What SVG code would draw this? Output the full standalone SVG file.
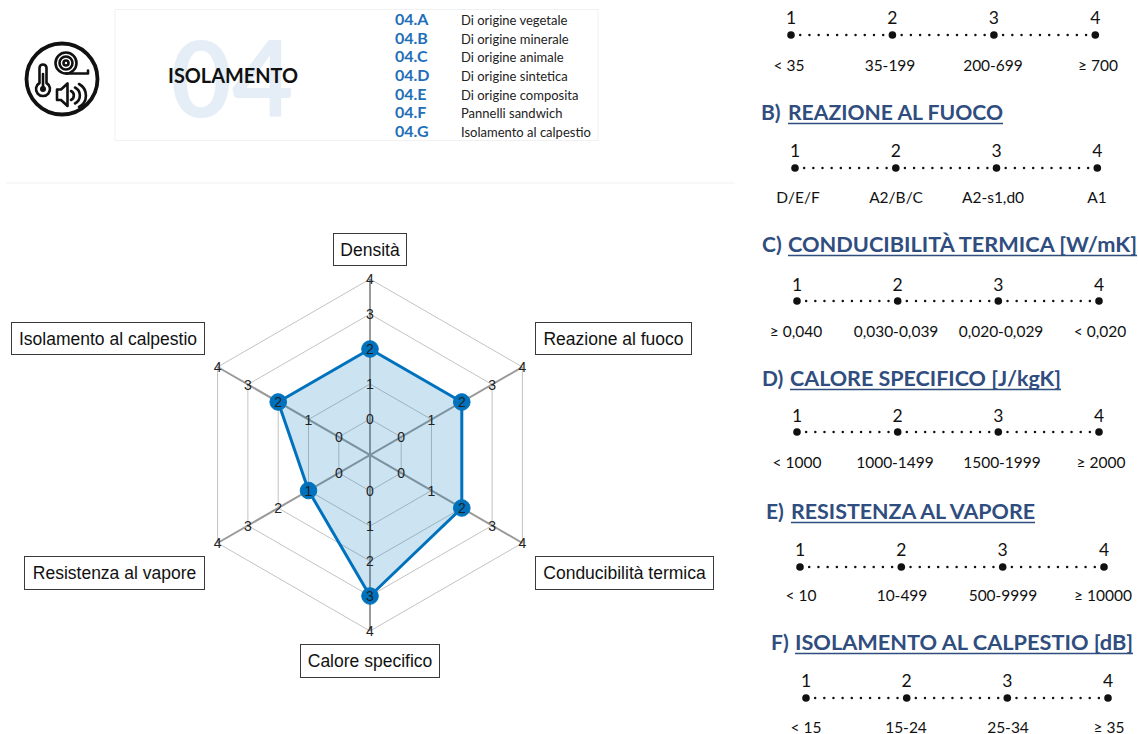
<svg xmlns="http://www.w3.org/2000/svg" width="1138" height="734" viewBox="0 0 1138 734">
<style>
.code{font-family:Lato,"Liberation Sans",sans-serif;font-weight:bold;font-size:16px;fill:#1f6fb8}
.desc{font-family:Lato,"Liberation Sans",sans-serif;font-size:13px;fill:#222}
.grid{fill:none;stroke:#b4b4b4;stroke-width:0.8}
.axis{stroke:#9a9a9a;stroke-width:2}
.tick{font-family:"Liberation Sans",Arial,sans-serif;font-size:14px;fill:#222;text-anchor:middle}
.mk{fill:#0072bd;stroke:#0072bd;stroke-width:1}
.lblbox{fill:#fff;stroke:#3a3a3a;stroke-width:1}
.lbl{font-family:"Liberation Sans",Arial,sans-serif;font-size:17.5px;fill:#111;text-anchor:middle}
.ttl{font-family:Lato,"Open Sans",sans-serif;font-weight:bold;font-size:21px;fill:#2f4d7e}
.ul{stroke:#2f4d7e;stroke-width:1.6}
.num{font-family:Lato,"Open Sans",sans-serif;font-size:17.5px;fill:#111;text-anchor:middle}
.val{font-family:Lato,"Open Sans",sans-serif;font-size:15.5px;fill:#111;text-anchor:middle}
.dots{fill:none;stroke:#111;stroke-width:2.5;stroke-linecap:round}
.big{fill:#111}
</style>
<rect width="1138" height="734" fill="#fff"/>

<g id="header">
  <rect x="115" y="9.5" width="483" height="131" fill="#fff" stroke="#f1f1f1" stroke-width="1"/>
  <line x1="6" y1="183" x2="735" y2="183" stroke="#f2f2f2" stroke-width="1.2"/>
  <text x="232" y="117" font-family="Lato,'Open Sans',sans-serif" font-weight="bold" font-size="106" fill="#e5edf6" text-anchor="middle">04</text>
  <text x="168" y="83" font-family="Lato,'Open Sans',sans-serif" font-weight="bold" font-size="20" fill="#111" textLength="130" lengthAdjust="spacingAndGlyphs">ISOLAMENTO</text>
</g>
<g id="icon" fill="none" stroke="#111" stroke-width="2.6" stroke-linecap="round" stroke-linejoin="round">
  <circle cx="62" cy="79" r="35.5" stroke-width="3.8"/>
  <path d="M39.5,83 V68 a3.5,3.5 0 0 1 7,0 V83 a7,7 0 1 1 -7,0 Z"/>
  <circle cx="43" cy="89" r="3" fill="#111" stroke="none"/>
  <line x1="43" y1="74" x2="43" y2="88"/>
  <circle cx="66" cy="63" r="10.5"/>
  <circle cx="66" cy="63" r="6.5"/>
  <circle cx="66" cy="63" r="2.5"/>
  <path d="M66,73.5 H88 V70.5"/>
  <path d="M57,89.5 H61 L67.5,83.5 V106 L61,100 H57 Z"/>
  <path d="M71,91 a5,5 0 0 1 0,9"/>
  <path d="M75,87.5 a9,9 0 0 1 0,16"/>
  <path d="M79,84 a13,13 0 0 1 0,23"/>
</g>
<g id="list">
  <text class="code" x="395" y="25">04.A</text><text class="desc" x="461" y="25">Di origine vegetale</text>
  <text class="code" x="395" y="43.7">04.B</text><text class="desc" x="461" y="43.7">Di origine minerale</text>
  <text class="code" x="395" y="62.3">04.C</text><text class="desc" x="461" y="62.3">Di origine animale</text>
  <text class="code" x="395" y="81">04.D</text><text class="desc" x="461" y="81">Di origine sintetica</text>
  <text class="code" x="395" y="99.7">04.E</text><text class="desc" x="461" y="99.7">Di origine composita</text>
  <text class="code" x="395" y="118.3">04.F</text><text class="desc" x="461" y="118.3">Pannelli sandwich</text>
  <text class="code" x="395" y="137">04.G</text><text class="desc" x="461" y="137">Isolamento al calpestio</text>
</g>

<g id="radar-grid">
  <polygon class="grid" points="370,419 401.18,437 401.18,473 370,491 338.82,473 338.82,437"/>
  <polygon class="grid" points="370,384 431.49,419.5 431.49,490.5 370,526 308.51,490.5 308.51,419.5"/>
  <polygon class="grid" points="370,349 461.8,402 461.8,508 370,561 278.2,508 278.2,402"/>
  <polygon class="grid" points="370,314 492.11,384.5 492.11,525.5 370,596 247.89,525.5 247.89,384.5"/>
  <polygon class="grid" points="370,279 522.42,367 522.42,543 370,631 217.58,543 217.58,367"/>
  <line class="axis" x1="370" y1="279" x2="370" y2="631"/>
  <line class="axis" x1="522.42" y1="367" x2="217.58" y2="543"/>
  <line class="axis" x1="522.42" y1="543" x2="217.58" y2="367"/>
</g>
<g id="radar-data">
  <polygon points="370,349 461.8,402 461.8,508 370,596 308.51,490.5 278.2,402" fill="#0072bd" fill-opacity="0.2" stroke="#0072bd" stroke-width="3" stroke-linejoin="round"/>
</g>
<g id="radar-ticks">
  <text class="tick" x="370" y="424">0</text><text class="tick" x="370" y="389">1</text><text class="tick" x="370" y="319">3</text><text class="tick" x="370" y="284">4</text>
  <text class="tick" x="401.18" y="442">0</text><text class="tick" x="431.49" y="424.5">1</text><text class="tick" x="492.11" y="389.5">3</text><text class="tick" x="522.42" y="372">4</text>
  <text class="tick" x="401.18" y="478">0</text><text class="tick" x="431.49" y="495.5">1</text><text class="tick" x="492.11" y="530.5">3</text><text class="tick" x="522.42" y="548">4</text>
  <text class="tick" x="370" y="496">0</text><text class="tick" x="370" y="531">1</text><text class="tick" x="370" y="566">2</text><text class="tick" x="370" y="636">4</text>
  <text class="tick" x="338.82" y="478">0</text><text class="tick" x="278.2" y="513">2</text><text class="tick" x="247.89" y="530.5">3</text><text class="tick" x="217.58" y="548">4</text>
  <text class="tick" x="338.82" y="442">0</text><text class="tick" x="308.51" y="424.5">1</text><text class="tick" x="247.89" y="389.5">3</text><text class="tick" x="217.58" y="372">4</text>
</g>
<g id="radar-markers">
  <circle class="mk" cx="370" cy="349" r="8.3"/><text class="tick" x="370" y="354">2</text>
  <circle class="mk" cx="461.8" cy="402" r="8.3"/><text class="tick" x="461.8" y="407">2</text>
  <circle class="mk" cx="461.8" cy="508" r="8.3"/><text class="tick" x="461.8" y="513">2</text>
  <circle class="mk" cx="370" cy="596" r="8.3"/><text class="tick" x="370" y="601">3</text>
  <circle class="mk" cx="308.51" cy="490.5" r="8.3"/><text class="tick" x="308.51" y="495.5">1</text>
  <circle class="mk" cx="278.2" cy="402" r="8.3"/><text class="tick" x="278.2" y="407">2</text>
</g>
<g id="node-densita"><rect class="lblbox" x="333.5" y="233.5" width="73" height="32"/><text class="lbl" x="370" y="256">Densità</text></g>
<g id="node-reazione"><rect class="lblbox" x="535.5" y="322.5" width="156" height="32"/><text class="lbl" x="613.5" y="345">Reazione al fuoco</text></g>
<g id="node-conducibilita"><rect class="lblbox" x="535.5" y="556.5" width="178" height="33"/><text class="lbl" x="624.5" y="579">Conducibilità termica</text></g>
<g id="node-calore"><rect class="lblbox" x="300.5" y="644.5" width="139" height="33"/><text class="lbl" x="370" y="667">Calore specifico</text></g>
<g id="node-resistenza"><rect class="lblbox" x="24.5" y="556.5" width="180" height="33"/><text class="lbl" x="114.5" y="579">Resistenza al vapore</text></g>
<g id="node-isolamento"><rect class="lblbox" x="11.5" y="322.5" width="193" height="32"/><text class="lbl" x="108" y="345">Isolamento al calpestio</text></g>

<g id="scale-a">
  <path class="dots" d="M791,35 H1095.3" stroke-dasharray="0 9.221"/>
  <circle class="big" cx="791" cy="35" r="3.8"/><circle class="big" cx="892.4" cy="35" r="3.8"/><circle class="big" cx="993.9" cy="35" r="3.8"/><circle class="big" cx="1095.3" cy="35" r="3.8"/>
  <text class="num" x="791" y="24">1</text><text class="num" x="892.4" y="24">2</text><text class="num" x="993.9" y="24">3</text><text class="num" x="1095.3" y="24">4</text>
  <text class="val" x="789" y="71">&lt; 35</text><text class="val" x="890" y="71">35-199</text><text class="val" x="993" y="71">200-699</text><text class="val" x="1098" y="71">≥ 700</text>
</g>
<g id="scale-b">
  <text class="ttl" x="761" y="120">B)</text>
  <text class="ttl" x="788" y="120" textLength="215" lengthAdjust="spacingAndGlyphs">REAZIONE AL FUOCO</text>
  <line class="ul" x1="788" y1="123.5" x2="1003" y2="123.5"/>
  <path class="dots" d="M795,168 H1097.3" stroke-dasharray="0 9.161"/>
  <circle class="big" cx="795" cy="168" r="3.8"/><circle class="big" cx="895.8" cy="168" r="3.8"/><circle class="big" cx="996.5" cy="168" r="3.8"/><circle class="big" cx="1097.3" cy="168" r="3.8"/>
  <text class="num" x="795" y="157">1</text><text class="num" x="895.8" y="157">2</text><text class="num" x="996.5" y="157">3</text><text class="num" x="1097.3" y="157">4</text>
  <text class="val" x="798" y="203">D/E/F</text><text class="val" x="896" y="203">A2/B/C</text><text class="val" x="993" y="203">A2-s1,d0</text><text class="val" x="1097" y="203">A1</text>
</g>
<g id="scale-c">
  <text class="ttl" x="762" y="252">C)</text>
  <text class="ttl" x="788" y="252" textLength="349" lengthAdjust="spacingAndGlyphs">CONDUCIBILITÀ TERMICA [W/mK]</text>
  <line class="ul" x1="788" y1="255.5" x2="1137" y2="255.5"/>
  <path class="dots" d="M797,301 H1099" stroke-dasharray="0 9.152"/>
  <circle class="big" cx="797" cy="301" r="3.8"/><circle class="big" cx="897.7" cy="301" r="3.8"/><circle class="big" cx="998.3" cy="301" r="3.8"/><circle class="big" cx="1099" cy="301" r="3.8"/>
  <text class="num" x="797" y="291">1</text><text class="num" x="897.7" y="291">2</text><text class="num" x="998.3" y="291">3</text><text class="num" x="1099" y="291">4</text>
  <text class="val" x="796" y="337">≥ 0,040</text><text class="val" x="896" y="337">0,030-0,039</text><text class="val" x="1001" y="337">0,020-0,029</text><text class="val" x="1100" y="337">&lt; 0,020</text>
</g>
<g id="scale-d">
  <text class="ttl" x="762" y="386">D)</text>
  <text class="ttl" x="790" y="386" textLength="271" lengthAdjust="spacingAndGlyphs">CALORE SPECIFICO [J/kgK]</text>
  <line class="ul" x1="790" y1="389.5" x2="1061" y2="389.5"/>
  <path class="dots" d="M797,432 H1099" stroke-dasharray="0 9.152"/>
  <circle class="big" cx="797" cy="432" r="3.8"/><circle class="big" cx="897.7" cy="432" r="3.8"/><circle class="big" cx="998.3" cy="432" r="3.8"/><circle class="big" cx="1099" cy="432" r="3.8"/>
  <text class="num" x="797" y="422">1</text><text class="num" x="897.7" y="422">2</text><text class="num" x="998.3" y="422">3</text><text class="num" x="1099" y="422">4</text>
  <text class="val" x="797" y="468">&lt; 1000</text><text class="val" x="895" y="468">1000-1499</text><text class="val" x="1002" y="468">1500-1999</text><text class="val" x="1101" y="468">≥ 2000</text>
</g>
<g id="scale-e">
  <text class="ttl" x="766" y="519">E)</text>
  <text class="ttl" x="791" y="519" textLength="244" lengthAdjust="spacingAndGlyphs">RESISTENZA AL VAPORE</text>
  <line class="ul" x1="791" y1="522.5" x2="1035" y2="522.5"/>
  <path class="dots" d="M800,567 H1104" stroke-dasharray="0 9.212"/>
  <circle class="big" cx="800" cy="567" r="3.8"/><circle class="big" cx="901.3" cy="567" r="3.8"/><circle class="big" cx="1002.7" cy="567" r="3.8"/><circle class="big" cx="1104" cy="567" r="3.8"/>
  <text class="num" x="800" y="556">1</text><text class="num" x="901.3" y="556">2</text><text class="num" x="1002.7" y="556">3</text><text class="num" x="1104" y="556">4</text>
  <text class="val" x="801" y="601">&lt; 10</text><text class="val" x="902" y="601">10-499</text><text class="val" x="1003" y="601">500-9999</text><text class="val" x="1103" y="601">≥ 10000</text>
</g>
<g id="scale-f">
  <text class="ttl" x="771" y="650">F)</text>
  <text class="ttl" x="795" y="650" textLength="338" lengthAdjust="spacingAndGlyphs">ISOLAMENTO AL CALPESTIO [dB]</text>
  <line class="ul" x1="795" y1="653.5" x2="1133" y2="653.5"/>
  <path class="dots" d="M806,698 H1108" stroke-dasharray="0 9.152"/>
  <circle class="big" cx="806" cy="698" r="3.8"/><circle class="big" cx="906.7" cy="698" r="3.8"/><circle class="big" cx="1007.3" cy="698" r="3.8"/><circle class="big" cx="1108" cy="698" r="3.8"/>
  <text class="num" x="806" y="687">1</text><text class="num" x="906.7" y="687">2</text><text class="num" x="1007.3" y="687">3</text><text class="num" x="1108" y="687">4</text>
  <text class="val" x="806" y="733">&lt; 15</text><text class="val" x="906" y="733">15-24</text><text class="val" x="1008" y="733">25-34</text><text class="val" x="1109" y="733">≥ 35</text>
</g>
</svg>
